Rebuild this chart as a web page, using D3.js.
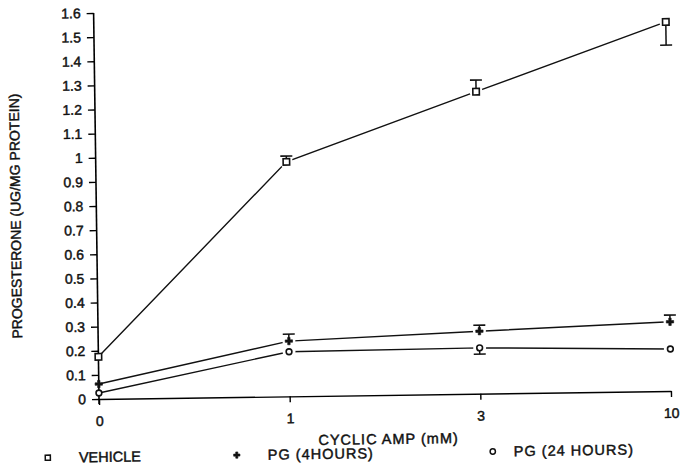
<!DOCTYPE html>
<html>
<head>
<meta charset="utf-8">
<script src="https://cdn.jsdelivr.net/npm/d3@7"></script>
<style>
  body { margin: 0; background: #fff; }
  text { font-family: "Liberation Sans", Arial, sans-serif; fill: #111; stroke: #111; stroke-width: 0.45px; }
</style>
</head>
<body>
<div id="chart"></div>
<script>
// doses of cyclic AMP (mM), plotted evenly spaced
const doses = ["0", "1", "3", "10"];

// progesterone (ug/mg protein) per series
const vehicle = [0.175, 0.972, 1.252, 1.530];
const pg4h = [0.062, 0.229, 0.259, 0.287];
const pg24h = [0.025, 0.185, 0.190, 0.174];

// end of the one-sided error bar (null = none drawn)
const vehicleErr = [null, 0.996, 1.300, 1.434];
const pg4hErr = [null, 0.258, 0.284, 0.315];
const pg24hErr = [null, null, 0.164, null];

const yTicks = d3.range(0, 17).map(i => i / 10);
const yTickLabels = ["0", "0.1", "0.2", "0.3", "0.4", "0.5", "0.6", "0.7", "0.8", "0.9",
                     "1", "1.1", "1.2", "1.3", "1.4", "1.5", "1.6"];

const legendNames = ["VEHICLE", "PG (4HOURS)", "PG (24 HOURS)"];

const width = 682;
const height = 467;

const svg = d3.select("#chart")
    .append("svg")
    .attr("width", width)
    .attr("height", height);

// the scanned figure is tilted a little, so tilt the whole drawing
const g = svg.append("g")
    .attr("transform", "rotate(-0.8, 99, 399)");

const xScale = d3.scalePoint()
    .domain(doses)
    .range([99, 671]);

const yScale = d3.scaleLinear()
    .domain([0, 1.6])
    .range([399, 13]);

// marker shapes
const markerSquare = d3.symbol().type(d3.symbolSquare).size(42);
const markerPlus = d3.symbol().type(d3.symbolCross).size(30);
const markerDiamond = d3.symbol().type(d3.symbolCircle).size(26);

const series = [
    { values: vehicle, err: vehicleErr, marker: markerSquare, filled: false },
    { values: pg4h, err: pg4hErr, marker: markerPlus, filled: true },
    { values: pg24h, err: pg24hErr, marker: markerDiamond, filled: false }
];

const line = d3.line()
    .x((d, i) => xScale(doses[i]))
    .y(d => yScale(d));

// lines first, then white gaps around markers (not at dose 0, that sits on the axis)
series.forEach(s => {
    g.append("path")
        .datum(s.values)
        .attr("fill", "none")
        .attr("stroke", "#111")
        .attr("stroke-width", 1.4)
        .attr("d", line);
});

series.forEach(s => {
    g.selectAll(null)
        .data(s.values.slice(1))
        .enter()
        .append("circle")
        .attr("cx", (d, i) => xScale(doses[i + 1]))
        .attr("cy", d => yScale(d))
        .attr("r", 6.5)
        .attr("fill", "#fff");
});

// y axis
const yAxis = d3.axisLeft(yScale)
    .tickValues(yTicks)
    .tickFormat((d, i) => yTickLabels[i])
    .tickSize(7)
    .tickSizeOuter(0)
    .tickPadding(6);

const yG = g.append("g")
    .attr("transform", "translate(99,0)")
    .call(yAxis);
yG.select(".domain").attr("d", "M0,13V404").attr("stroke-width", 1.6);
yG.selectAll(".tick line").attr("stroke-width", 1.4);
yG.selectAll(".tick text").attr("font-size", 14).attr("font-family", null);

// x axis
const xAxis = d3.axisBottom(xScale)
    .tickSize(6)
    .tickSizeOuter(0)
    .tickPadding(11);

const xG = g.append("g")
    .attr("transform", "translate(0,399)")
    .call(xAxis);
xG.select(".domain").attr("stroke-width", 1.4);
xG.selectAll(".tick line").attr("stroke-width", 1.4);
xG.selectAll(".tick text").attr("font-size", 14).attr("font-family", null);

// axis titles
g.append("text")
    .attr("transform", "translate(23,215) rotate(-90)")
    .attr("text-anchor", "middle")
    .attr("font-size", 14)
    .text("PROGESTERONE (UG/MG PROTEIN)");

g.append("text")
    .attr("x", 388)
    .attr("y", 448)
    .attr("text-anchor", "middle")
    .attr("font-size", 14.5)
    .attr("letter-spacing", 1)
    .text("CYCLIC AMP (mM)");

// error bars and markers
series.forEach(s => {
    s.err.forEach((e, i) => {
        if (e === null) return;
        const x = xScale(doses[i]);
        g.append("line")
            .attr("x1", x).attr("x2", x)
            .attr("y1", yScale(s.values[i])).attr("y2", yScale(e))
            .attr("stroke", "#111").attr("stroke-width", 1.5);
        g.append("line")
            .attr("x1", x - 6).attr("x2", x + 6)
            .attr("y1", yScale(e)).attr("y2", yScale(e))
            .attr("stroke", "#111").attr("stroke-width", 1.6);
    });

    g.selectAll(null)
        .data(s.values)
        .enter()
        .append("path")
        .attr("transform", (d, i) => `translate(${xScale(doses[i])},${yScale(d)})`)
        .attr("d", s.marker)
        .attr("fill", s.filled ? "#111" : "#fff")
        .attr("stroke", "#111")
        .attr("stroke-width", s.filled ? 0.6 : 1.6);
});

// legend
const legendX = [47, 236, 492];
const legendTextX = [78, 267, 513];

legendNames.forEach((name, i) => {
    g.append("path")
        .attr("transform", `translate(${legendX[i]},457)`)
        .attr("d", series[i].marker.size(i === 0 ? 26 : 22))
        .attr("fill", series[i].filled ? "#111" : "#fff")
        .attr("stroke", "#111")
        .attr("stroke-width", series[i].filled ? 0.6 : 1.5);

    g.append("text")
        .attr("x", legendTextX[i])
        .attr("y", 462)
        .attr("font-size", 14.5)
        .attr("letter-spacing", i === 0 ? 0 : 1)
        .text(name);
});
</script>
</body>
</html>
